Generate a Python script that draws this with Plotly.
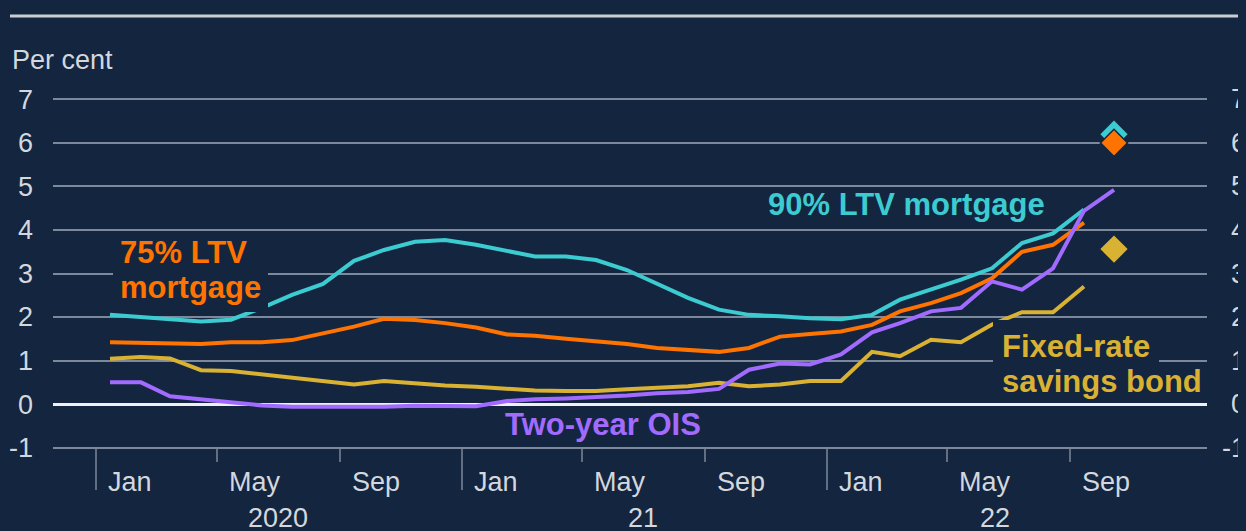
import plotly.graph_objects as go
import pandas as pd

# ---------------- data ----------------
months = pd.date_range("2020-01-01", "2022-10-01", freq="MS")  # Jan 2020 .. Oct 2022

ltv90 = [2.05, 2.00, 1.96, 1.90, 1.94, 2.21, 2.51, 2.76, 3.29, 3.54, 3.73, 3.77,
         3.66, 3.52, 3.39, 3.39, 3.31, 3.08, 2.76, 2.44, 2.17, 2.05, 2.02, 1.97,
         1.95, 2.05, 2.40, 2.63, 2.86, 3.12, 3.70, 3.92, 4.47]
ltv75 = [1.42, 1.41, 1.40, 1.38, 1.42, 1.42, 1.47, 1.62, 1.78, 1.96, 1.93, 1.86,
         1.76, 1.60, 1.57, 1.50, 1.45, 1.38, 1.29, 1.24, 1.20, 1.29, 1.55, 1.61,
         1.67, 1.82, 2.13, 2.32, 2.55, 2.89, 3.50, 3.66, 4.17]
ois2y = [0.50, 0.50, 0.18, 0.11, 0.02, -0.03, -0.06, -0.06, -0.08, -0.06, -0.04, -0.05,
         -0.05, 0.07, 0.11, 0.13, 0.16, 0.20, 0.25, 0.28, 0.35, 0.79, 0.93, 0.91,
         1.14, 1.65, 1.86, 2.13, 2.21, 2.82, 2.63, 3.12, 4.44, 4.92]
savings = [1.04, 1.08, 1.05, 0.78, 0.76, 0.68, 0.60, 0.53, 0.45, 0.53, 0.47, 0.43,
           0.40, 0.35, 0.31, 0.30, 0.30, 0.34, 0.38, 0.41, 0.49, 0.41, 0.45, 0.53,
           0.53, 1.20, 1.10, 1.48, 1.42, 1.83, 2.11, 2.11, 2.70]

latest_month = "2022-10-15"
latest_ltv90 = 6.2
latest_ltv75 = 6.0
latest_savings = 3.56

tick_months = ["2020-01-01", "2020-05-01", "2020-09-01",
               "2021-01-01", "2021-05-01", "2021-09-01",
               "2022-01-01", "2022-05-01", "2022-09-01"]
tick_labels = ["Jan", "May", "Sep", "Jan", "May", "Sep", "Jan", "May", "Sep"]
year_labels = ["2020", "21", "22"]
year_centres = ["2020-07-01", "2021-07-01", "2022-06-18"]
y_ticks = [-1, 0, 1, 2, 3, 4, 5, 6, 7]
y_ticktext = ["-1", "0", "1", "2", "3", "4", "5", "6", "7"]

# ---------------- style ----------------
W, H = 1246, 531
OFF = 8                      # page offset of the figure inside the browser window
PL, PR, PT, PB = 53, 1207, 95, 452   # plot box in window pixels
BG = "#14253f"
GRID = "#7d889a"
TXT = "#d3d7de"
CYAN = "#3ccbd0"
ORANGE = "#ff7300"
GOLD = "#d9b233"
PURPLE = "#a26bff"
FONT = "Liberation Sans, Arial, sans-serif"

plot_h = PB - PT
plot_w = PR - PL


def py(p):
    return (PB - p) / plot_h


def pxp(p):
    return (p - PL) / plot_w


def xdate(p):
    return (pd.Timestamp("2020-01-01") + pd.Timedelta(days=(p - 96))).strftime("%Y-%m-%d %H:%M")


def yval(p):
    return 7.1 - (p - PT) / plot_h * 8.2


x_mid = [m + pd.Timedelta(days=14) for m in months]

fig = go.Figure()
fig.add_trace(go.Scatter(x=x_mid[:len(ltv90)], y=ltv90, mode="lines",
                         line=dict(color=CYAN, width=4), name="90% LTV mortgage"))
fig.add_trace(go.Scatter(x=x_mid[:len(ltv75)], y=ltv75, mode="lines",
                         line=dict(color=ORANGE, width=4), name="75% LTV mortgage"))
fig.add_trace(go.Scatter(x=x_mid[:len(savings)], y=savings, mode="lines",
                         line=dict(color=GOLD, width=4), name="Fixed-rate savings bond"))
fig.add_trace(go.Scatter(x=x_mid[:len(ois2y)], y=ois2y, mode="lines",
                         line=dict(color=PURPLE, width=4), name="Two-year OIS"))
fig.add_trace(go.Scatter(x=[latest_month], y=[latest_ltv90], mode="markers",
                         marker=dict(symbol="diamond", size=21, color=CYAN)))
fig.add_trace(go.Scatter(x=[latest_month], y=[latest_ltv75], mode="markers",
                         marker=dict(symbol="diamond", size=21, color=ORANGE,
                                     line=dict(color=BG, width=1.5))))
fig.add_trace(go.Scatter(x=[latest_month], y=[latest_savings], mode="markers",
                         marker=dict(symbol="diamond", size=21, color=GOLD)))

shapes = []
# top rule
shapes.append(dict(type="line", xref="paper", yref="paper", x0=pxp(10), x1=pxp(1260),
                   y0=py(16), y1=py(16), line=dict(color="#c9ced6", width=3)))
# x-axis ticks hanging from the -1 line
for i, d in enumerate(tick_months):
    major = tick_labels[i] == "Jan"
    shapes.append(dict(type="line", xref="x", yref="paper", x0=d, x1=d,
                       y0=py(448), y1=py(490 if major else 462),
                       line=dict(color=GRID, width=1.5)))

ann = []
ann.append(dict(text="Per cent", xref="paper", yref="paper", x=pxp(10), y=py(60.5),
                xanchor="left", yanchor="middle", showarrow=False,
                font=dict(size=27, color=TXT)))
for d, t in zip(tick_months, tick_labels):
    ann.append(dict(text=t, xref="x", yref="paper", x=d, xshift=10, y=py(481.5),
                    xanchor="left", yanchor="middle", showarrow=False,
                    font=dict(size=27, color=TXT)))
for d, t in zip(year_centres, year_labels):
    ann.append(dict(text=t, xref="x", yref="paper", x=d, y=py(517.5),
                    xanchor="center", yanchor="middle", showarrow=False,
                    font=dict(size=27, color=TXT)))
for v, t in zip(y_ticks, y_ticktext):
    ann.append(dict(text=t, xref="paper", yref="y", x=pxp(1248), y=v,
                    xanchor="right", yanchor="middle", showarrow=False,
                    font=dict(size=27, color=TXT)))

labels = [
    ("75% LTV", 120, 252.5, ORANGE, False, 0),
    ("mortgage", 120, 287.5, ORANGE, True, 7),
    ("90% LTV mortgage", 768, 204.5, CYAN, False, 0),
    ("Two-year OIS", 505, 424.5, PURPLE, False, 0),
    ("Fixed-rate", 1002, 346.5, GOLD, True, 9),
    ("savings bond", 1002, 381.5, GOLD, False, 0),
]
for text, left, cy, col, bg, pad in labels:
    a = dict(text="<b>%s</b>" % text, xref="x", yref="y", x=xdate(left - pad), y=yval(cy),
             xanchor="left", yanchor="middle", showarrow=False, borderpad=pad,
             borderwidth=0, font=dict(size=31, color=col))
    if bg:
        a["bgcolor"] = BG
    ann.append(a)

fig.update_layout(
    width=W, height=H,
    margin=dict(l=PL - OFF, r=W - (PR - OFF), t=PT - OFF, b=H - (PB - OFF)),
    paper_bgcolor=BG, plot_bgcolor=BG,
    font=dict(family=FONT, color=TXT),
    showlegend=False,
    shapes=shapes,
    annotations=ann,
    xaxis=dict(type="date", range=[xdate(PL), xdate(PR)], showgrid=False,
               zeroline=False, showticklabels=False, ticks="", showline=False,
               automargin=False),
    yaxis=dict(range=[-1.1, 7.1], tickvals=y_ticks, ticktext=y_ticktext,
               showgrid=True, gridcolor=GRID,
               gridwidth=1.5, zeroline=True, zerolinecolor="#eef0f3", zerolinewidth=2.5,
               ticks="", ticklabelstandoff=19, tickfont=dict(size=27, color=TXT),
               showline=False, automargin=False),
)

fig.write_html(
    "out.html",
    post_script="document.body.style.background='%s';"
                "document.documentElement.style.background='%s';" % (BG, BG),
)
